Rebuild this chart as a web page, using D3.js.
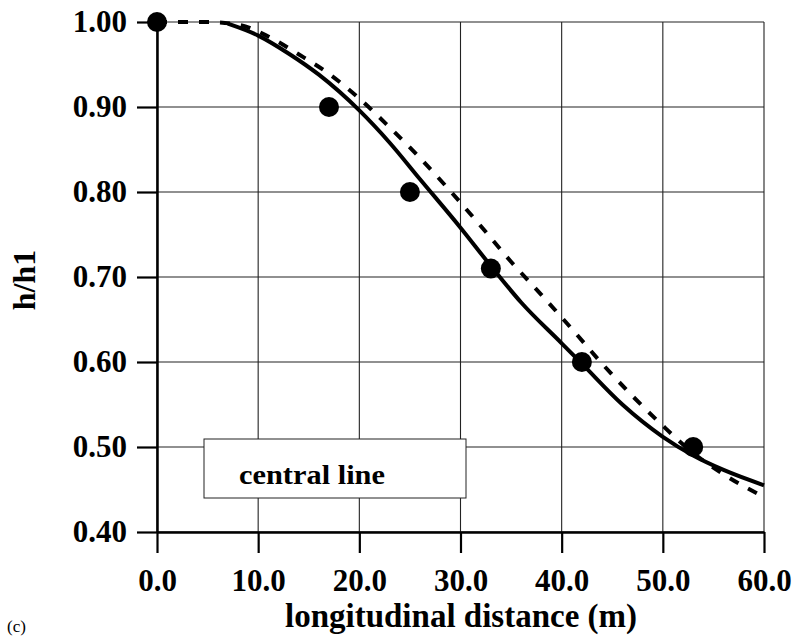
<!DOCTYPE html>
<meta charset="utf-8">
<script src="https://d3js.org/d3.v7.min.js"></script>
<style>
  body { margin: 0; background: #fff; }
  text { font-family: "Liberation Serif", "Times New Roman", serif; }
</style>
<div id="my_dataviz"></div>
<script>

// measured points (dots)
var pointX = [0, 17, 25, 33, 42, 53];
var pointY = [1.00, 0.90, 0.80, 0.71, 0.60, 0.50];

// solid curve
var solidX = [7, 10, 13, 16, 20, 23, 26, 30, 33, 36, 40, 42, 46, 50, 53, 56, 60];
var solidY = [0.998, 0.984, 0.963, 0.938, 0.896, 0.858, 0.815, 0.758, 0.713, 0.670, 0.622, 0.598, 0.550, 0.512, 0.490, 0.473, 0.455];

// dashed curve
var dashX = [0, 5, 8, 11, 14, 17, 20, 23, 26, 29, 32, 35, 38, 41, 44, 47, 50, 53, 56, 60];
var dashY = [1.000, 1.000, 0.997, 0.983, 0.962, 0.939, 0.910, 0.876, 0.840, 0.801, 0.760, 0.718, 0.679, 0.639, 0.598, 0.560, 0.525, 0.493, 0.468, 0.441];

var xTicks = [0, 10, 20, 30, 40, 50, 60];
var yTicks = [0.40, 0.50, 0.60, 0.70, 0.80, 0.90, 1.00];

var margin = {top: 22, left: 157},
    width = 607,
    height = 510;

var svg = d3.select("#my_dataviz")
  .append("svg")
    .attr("width", 794)
    .attr("height", 636);

var g = svg.append("g")
    .attr("transform", "translate(" + margin.left + "," + margin.top + ")");

var x = d3.scaleLinear().domain([0, 60]).range([0, width]);
var y = d3.scaleLinear().domain([0.40, 1.00]).range([height, 0]);

// grid
g.append("g")
  .selectAll("line")
  .data(xTicks)
  .enter()
  .append("line")
    .attr("x1", function(d) { return x(d); })
    .attr("x2", function(d) { return x(d); })
    .attr("y1", 0)
    .attr("y2", height)
    .attr("stroke", "#222")
    .attr("stroke-width", 1.1);

g.append("g")
  .selectAll("line")
  .data(yTicks)
  .enter()
  .append("line")
    .attr("x1", 0)
    .attr("x2", width)
    .attr("y1", function(d) { return y(d); })
    .attr("y2", function(d) { return y(d); })
    .attr("stroke", "#222")
    .attr("stroke-width", 1.1);

// axes
var xAxis = g.append("g")
    .attr("transform", "translate(0," + height + ")")
    .call(d3.axisBottom(x).tickValues(xTicks).tickFormat(d3.format(".1f"))
      .tickSize(21).tickSizeOuter(0).tickPadding(16));

var yAxis = g.append("g")
    .call(d3.axisLeft(y).tickValues(yTicks).tickFormat(d3.format(".2f"))
      .tickSize(20).tickSizeOuter(0).tickPadding(10));

[xAxis, yAxis].forEach(function(a) {
  a.select(".domain").attr("stroke", "#000").attr("stroke-width", 2.5);
  a.selectAll(".tick line").attr("stroke", "#000").attr("stroke-width", 2.2);
  a.selectAll(".tick text")
    .attr("fill", "#000")
    .style("font-family", "'Liberation Serif', serif")
    .style("font-weight", "bold")
    .style("font-size", "31px");
});

// legend box
g.append("rect")
    .attr("x", 204 - margin.left)
    .attr("y", 439 - margin.top)
    .attr("width", 262)
    .attr("height", 59)
    .attr("fill", "#fff")
    .attr("stroke", "#222")
    .attr("stroke-width", 1);

g.append("text")
    .attr("x", 239 - margin.left)
    .attr("y", 484 - margin.top)
    .attr("textLength", 146)
    .attr("lengthAdjust", "spacingAndGlyphs")
    .style("font-weight", "bold")
    .style("font-size", "28px")
    .text("central line");

// curves
var line = d3.line()
    .x(function(d) { return x(d[0]); })
    .y(function(d) { return y(d[1]); })
    .curve(d3.curveMonotoneX);

g.append("path")
    .datum(dashX.map(function(v, i) { return [v, dashY[i]]; }))
    .attr("d", line)
    .attr("fill", "none")
    .attr("stroke", "#000")
    .attr("stroke-width", 4)
    .attr("stroke-dasharray", "10,11");

g.append("path")
    .datum(solidX.map(function(v, i) { return [v, solidY[i]]; }))
    .attr("d", line)
    .attr("fill", "none")
    .attr("stroke", "#000")
    .attr("stroke-width", 4);

// dots
g.append("g")
  .selectAll("circle")
  .data(pointX)
  .enter()
  .append("circle")
    .attr("cx", function(d) { return x(d); })
    .attr("cy", function(d, i) { return y(pointY[i]); })
    .attr("r", 10)
    .attr("fill", "#000");

// axis titles
svg.append("text")
    .attr("x", 461)
    .attr("y", 627)
    .attr("text-anchor", "middle")
    .style("font-weight", "bold")
    .style("font-size", "33px")
    .text("longitudinal distance (m)");

svg.append("text")
    .attr("transform", "translate(35,280) rotate(-90)")
    .attr("text-anchor", "middle")
    .style("font-weight", "bold")
    .style("font-size", "32px")
    .text("h/h1");

svg.append("text")
    .attr("x", 7)
    .attr("y", 632)
    .style("font-size", "17px")
    .text("(c)");

</script>
